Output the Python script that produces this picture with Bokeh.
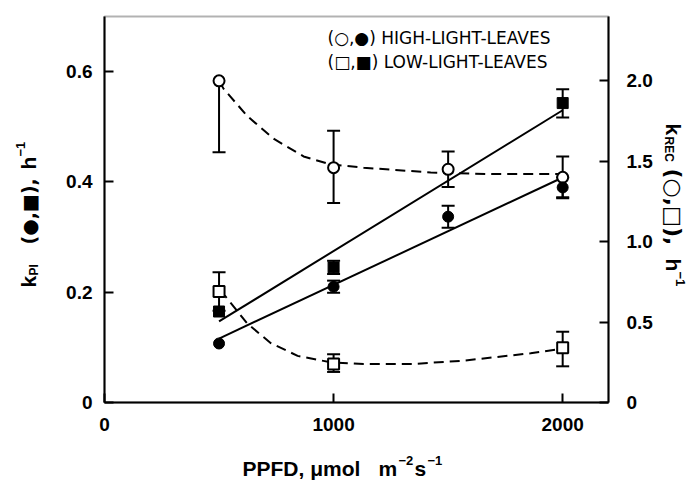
import math
from bokeh.plotting import figure
from bokeh.models import Range1d, LinearAxis, FixedTicker, Label, BoxAnnotation
from bokeh.embed import file_html
from bokeh.resources import INLINE

# ---------------- data ----------------
# k_PI (left axis), filled symbols
ppfd_hl = [500, 1000, 1500, 2000]
kpi_hl = [0.107, 0.210, 0.337, 0.390]
kpi_hl_lo = [0.107, 0.199, 0.317, 0.372]
kpi_hl_hi = [0.107, 0.221, 0.357, 0.408]

ppfd_ll = [500, 1000, 2000]
kpi_ll = [0.165, 0.245, 0.543]
kpi_ll_lo = [0.165, 0.233, 0.517]
kpi_ll_hi = [0.165, 0.257, 0.568]

# k_REC (right axis), open symbols
krec_hl = [2.00, 1.46, 1.45, 1.40]
krec_hl_lo = [1.556, 1.24, 1.34, 1.27]
krec_hl_hi = [2.00, 1.69, 1.56, 1.53]

krec_ll = [0.69, 0.24, 0.34]
krec_ll_lo = [0.57, 0.19, 0.225]
krec_ll_hi = [0.81, 0.30, 0.44]

# regression lines (k_PI)
fit_x = [500, 2000]
fit_ll = [0.147, 0.530]
fit_hl = [0.116, 0.408]

# hand-drawn dashed curves (k_REC)
curve_hl_x = [500, 520, 624, 738, 869, 987, 1131, 1424, 1700, 2000]
curve_hl_y = [2.00, 1.95, 1.78, 1.64, 1.53, 1.48, 1.46, 1.43, 1.42, 1.42]
curve_ll_x = [500, 528, 624, 725, 843, 987, 1131, 1349, 1568, 1860, 2000]
curve_ll_y = [0.69, 0.66, 0.49, 0.37, 0.29, 0.25, 0.24, 0.24, 0.26, 0.306, 0.335]

x_lim = (0, 2200)
left_lim = (0, 0.7)
right_lim = (0, 2.4)
x_ticks = [0, 1000, 2000]
x_tick_labels = ["0", "1000", "2000"]
left_ticks = [0, 0.2, 0.4, 0.6]
left_tick_labels = ["0", "0.2", "0.4", "0.6"]
right_ticks = [0, 0.5, 1.0, 1.5, 2.0]
right_tick_labels = ["0", "0.5", "1.0", "1.5", "2.0"]

legend_lines = ["(○,●) HIGH-LIGHT-LEAVES", "(□,■) LOW-LIGHT-LEAVES"]

# ---------------- layout (pixels) ----------------
W, H = 692, 481
BOX_L, BOX_R, BOX_T, BOX_B = 104, 608, 16, 402
FONT = "Liberation Sans"
SYMFONT = "DejaVu Sans"

def ext(lim, a, b, n):
    # range whose [lim] part sits between pixel a..b of a canvas n pixels long
    per = (lim[1] - lim[0]) / (b - a)
    return Range1d(lim[0] - a * per, lim[1] + (n - b) * per)

p = figure(width=W, height=H, output_backend="svg", toolbar_location=None,
           x_range=ext(x_lim, BOX_L, BOX_R, W),
           y_range=ext(left_lim, H - BOX_B, H - BOX_T, H),
           min_border=0)
p.extra_y_ranges = {"rec": ext(right_lim, H - BOX_B, H - BOX_T, H)}
p.grid.visible = False
p.outline_line_color = None
p.background_fill_color = "white"
p.border_fill_color = "white"

def style_axis(ax, ticks, labels, standoff, bounds):
    ax.ticker = FixedTicker(ticks=ticks)
    ax.major_label_overrides = {t: l for t, l in zip(ticks, labels)}
    ax.bounds = bounds
    ax.major_tick_in = 9
    ax.major_tick_out = 0
    ax.minor_tick_line_color = None
    ax.major_tick_line_width = 2
    ax.axis_line_width = 2
    ax.axis_line_color = "black"
    ax.major_label_text_font = FONT
    ax.major_label_text_font_style = "bold"
    ax.major_label_text_font_size = "19px"
    ax.major_label_text_color = "black"
    ax.major_label_standoff = standoff

p.xaxis[0].fixed_location = 0
style_axis(p.xaxis[0], x_ticks, x_tick_labels, 15, x_lim)
p.yaxis[0].fixed_location = 0
style_axis(p.yaxis[0], left_ticks, left_tick_labels, 12, left_lim)
rax = LinearAxis(y_range_name="rec", fixed_location=x_lim[1])
style_axis(rax, right_ticks, right_tick_labels, 18, right_lim)
p.add_layout(rax, "right")

# plot box
p.add_layout(BoxAnnotation(left=x_lim[0], right=x_lim[1], bottom=left_lim[0], top=left_lim[1],
                           fill_alpha=0, line_color="black", line_width=2, level="underlay"))

# lines
p.line(fit_x, fit_ll, line_color="black", line_width=2)
p.line(fit_x, fit_hl, line_color="black", line_width=2)
p.line(curve_hl_x, curve_hl_y, y_range_name="rec", line_color="black", line_width=2, line_dash="10 6")
p.line(curve_ll_x, curve_ll_y, y_range_name="rec", line_color="black", line_width=2, line_dash="10 6")

# error bars
def errbars(xs, ys, lo, hi, rng="default"):
    sx, s0, s1, cx, cy = [], [], [], [], []
    for x, y, l, h in zip(xs, ys, lo, hi):
        if l < y or h > y:
            sx.append(x); s0.append(l); s1.append(h)
        if l < y:
            cx.append(x); cy.append(l)
        if h > y:
            cx.append(x); cy.append(h)
    kw = {} if rng == "default" else {"y_range_name": rng}
    p.segment(x0=sx, y0=s0, x1=sx, y1=s1, line_color="black", line_width=2, **kw)
    p.scatter(cx, cy, marker="dash", size=13, line_color="black", line_width=2, **kw)

errbars(ppfd_hl, krec_hl, krec_hl_lo, krec_hl_hi, "rec")
errbars(ppfd_ll, krec_ll, krec_ll_lo, krec_ll_hi, "rec")
errbars(ppfd_hl, kpi_hl, kpi_hl_lo, kpi_hl_hi)
errbars(ppfd_ll, kpi_ll, kpi_ll_lo, kpi_ll_hi)

# markers
p.scatter(ppfd_hl, krec_hl, y_range_name="rec", marker="circle", size=11,
          fill_color="white", line_color="black", line_width=2)
p.scatter(ppfd_ll, krec_ll, y_range_name="rec", marker="square", size=11,
          fill_color="white", line_color="black", line_width=2)
p.scatter(ppfd_hl, kpi_hl, marker="circle", size=11, fill_color="black", line_color="black")
p.scatter(ppfd_ll, kpi_ll, marker="square", size=11, fill_color="black", line_color="black")

# text helper: page pixel coordinates (frame covers the whole canvas)
def lab(text, X, Y, size, angle=0.0, style="bold", font=FONT, align="left", baseline="middle"):
    p.add_layout(Label(x=X, y=H - Y, x_units="screen", y_units="screen",
                       text=text, angle=angle, text_font=font, text_font_style=style,
                       text_font_size=f"{size}px", text_align=align,
                       text_baseline=baseline, text_color="black"))

# legend text
lab(legend_lines[0], 327, 37, 17, style="normal", font=SYMFONT)
lab(legend_lines[1], 327, 61, 17, style="normal", font=SYMFONT)

# x-axis title
lab("PPFD,  μmol", 242, 468, 21)
lab("m", 378, 468, 21)
lab("−2", 398, 460, 13)
lab("s", 414, 468, 21)
lab("−1", 427, 460, 13)

# left axis title (reads upward)
up = math.pi / 2
lab("k", 28, 287, 21, angle=up)
lab("PI", 33, 275, 12, angle=up)
lab("(●,■),", 28, 244, 19, angle=up, font=SYMFONT)
lab("h", 28, 169, 21, angle=up)
lab("−1", 20, 156, 13, angle=up)

# right axis title (reads downward)
dn = -math.pi / 2
lab("k", 673, 123, 21, angle=dn)
lab("REC", 668, 136, 12, angle=dn)
lab("(○,□),", 673, 168, 22, angle=dn, font=SYMFONT)
lab("h", 673, 258, 21, angle=dn)
lab("−1", 680, 271, 13, angle=dn)

open("out.html", "w").write(file_html(p, INLINE))
